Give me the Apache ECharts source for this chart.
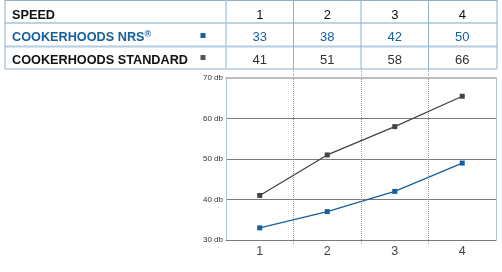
<!DOCTYPE html>
<html>
<head>
<meta charset="utf-8">
<script src="https://cdn.jsdelivr.net/npm/echarts@6/dist/echarts.min.js"></script>
<style>
html,body{margin:0;padding:0;background:#fff;}
#c{width:502px;height:272px;}
</style>
</head>
<body>
<div id="c"></div>
<script>
// ---- data ----
var speeds = ['1', '2', '3', '4'];
var rowLabels = ['SPEED', 'COOKERHOODS NRS', 'COOKERHOODS STANDARD'];
var tableNrs = [33, 38, 42, 50];
var tableStandard = [41, 51, 58, 66];
var chartNrs = [33, 37, 42, 49];
var chartStandard = [41, 51, 58, 65.5];
var yTicks = [30, 40, 50, 60, 70];
var yUnit = ' db';

var BLUE = '#17609e';
var DARK = '#444444';
var FONT = '"Liberation Sans", Arial, sans-serif';

var chart = echarts.init(document.getElementById('c'), null, {renderer: 'canvas'});

var option = {
  animation: false,
  backgroundColor: '#ffffff',
  grid: [
    {left: 226, width: 270, top: 78, height: 162},
    {left: 226, width: 270, top: 69, height: 176}
  ],
  xAxis: [
    {
      type: 'category', gridIndex: 0, data: speeds, position: 'bottom', boundaryGap: true,
      axisLine: {show: true, lineStyle: {color: '#7a7a7a', width: 1}},
      axisTick: {show: false},
      axisLabel: {fontSize: 12.5, color: '#444', fontFamily: FONT, margin: 5},
      splitLine: {show: false}
    },
    {
      type: 'category', gridIndex: 0, data: speeds, position: 'top',
      axisLine: {show: true, lineStyle: {color: '#bdbdbd', width: 2}},
      axisTick: {show: false}, axisLabel: {show: false}, splitLine: {show: false}
    },
    {
      type: 'category', gridIndex: 1, data: speeds, boundaryGap: true,
      axisLine: {show: false}, axisTick: {show: false}, axisLabel: {show: false},
      splitLine: {show: true, showMinLine: false, showMaxLine: false, interval: 0,
        lineStyle: {color: '#9a9a9a', type: 'dotted', width: 1}}
    }
  ],
  yAxis: [
    {
      type: 'value', gridIndex: 0, min: yTicks[0], max: yTicks[yTicks.length - 1], interval: 10,
      axisLine: {show: true, lineStyle: {color: '#a9c4d8', width: 1}},
      axisTick: {show: false},
      axisLabel: {formatter: function (v) { return v + yUnit; }, fontSize: 8, color: '#333', fontFamily: FONT, margin: 3},
      splitLine: {show: true, showMaxLine: false, lineStyle: {color: '#7a7a7a', width: 1}}
    },
    {
      type: 'value', gridIndex: 0, position: 'right', min: yTicks[0], max: yTicks[yTicks.length - 1], interval: 10,
      axisLine: {show: true, lineStyle: {color: '#a9c4d8', width: 1}},
      axisTick: {show: false}, axisLabel: {show: false}, splitLine: {show: false}
    },
    {
      type: 'value', gridIndex: 1, show: false
    }
  ],
  series: [
    {
      name: 'COOKERHOODS STANDARD', type: 'line', xAxisIndex: 0, yAxisIndex: 0,
      data: chartStandard, symbol: 'rect', symbolSize: 5, showAllSymbol: true,
      lineStyle: {color: DARK, width: 1.3}, itemStyle: {color: DARK}, z: 3
    },
    {
      name: 'COOKERHOODS NRS', type: 'line', xAxisIndex: 0, yAxisIndex: 0,
      data: chartNrs, symbol: 'rect', symbolSize: 5, showAllSymbol: true,
      lineStyle: {color: BLUE, width: 1.3}, itemStyle: {color: BLUE}, z: 4
    }
  ]
};
chart.setOption(option);

// ---- table built from the category axis positions ----
var centers = speeds.map(function (s, i) { return chart.convertToPixel({xAxisIndex: 0}, i); });
var bw = centers[1] - centers[0];
var bounds = centers.map(function (c) { return c - bw / 2; });
bounds.push(centers[centers.length - 1] + bw / 2);

var tableLeft = 5, tableRight = bounds[bounds.length - 1] + 1;
var rowY = [15, 37, 60];
var hLines = [
  {y: 0.5, c: '#8fb0cb', w: 1},
  {y: 23, c: '#a9c4d8', w: 1.5},
  {y: 46.5, c: '#b5cde0', w: 2},
  {y: 69, c: '#8fb0cb', w: 1}
];
var g = [];
hLines.forEach(function (h) {
  g.push({type: 'line', shape: {x1: tableLeft, y1: h.y, x2: tableRight, y2: h.y}, style: {stroke: h.c, lineWidth: h.w}, silent: true});
});
var vx = [tableLeft].concat(bounds.slice(0, bounds.length - 1)).concat([tableRight]);
vx.forEach(function (x, i) {
  g.push({type: 'line', shape: {x1: x, y1: 0, x2: x, y2: 69}, style: {stroke: i === 1 ? '#b5cde0' : '#8fb0cb', lineWidth: i === 1 ? 1.5 : 1}, silent: true});
});
// row labels
g.push({type: 'text', x: 12, y: rowY[0], style: {text: rowLabels[0], font: 'bold 12.7px ' + FONT, fill: '#111', verticalAlign: 'middle'}});
g.push({type: 'text', x: 12, y: rowY[1], style: {
  text: '{a|' + rowLabels[1] + '}{s|®}', verticalAlign: 'middle',
  rich: {a: {fontSize: 12.7, fontWeight: 'bold', fontFamily: FONT, fill: BLUE, color: BLUE},
         s: {fontSize: 9, fontWeight: 'bold', fontFamily: FONT, fill: BLUE, color: BLUE, verticalAlign: 'top', padding: [0, 0, 5, 0]}}
}});
g.push({type: 'text', x: 12, y: rowY[2], style: {text: rowLabels[2], font: 'bold 12.7px ' + FONT, fill: '#111', verticalAlign: 'middle'}});
// legend markers
g.push({type: 'rect', shape: {x: 200.5, y: 33, width: 5, height: 5}, style: {fill: BLUE}});
g.push({type: 'rect', shape: {x: 200.5, y: 55, width: 5, height: 5}, style: {fill: '#555'}});
// values
speeds.forEach(function (s, i) {
  g.push({type: 'text', x: centers[i], y: rowY[0], style: {text: s, font: '13px ' + FONT, fill: '#111', align: 'center', verticalAlign: 'middle'}});
  g.push({type: 'text', x: centers[i], y: rowY[1], style: {text: String(tableNrs[i]), font: '13px ' + FONT, fill: BLUE, align: 'center', verticalAlign: 'middle'}});
  g.push({type: 'text', x: centers[i], y: rowY[2], style: {text: String(tableStandard[i]), font: '13px ' + FONT, fill: '#333', align: 'center', verticalAlign: 'middle'}});
});
chart.setOption({graphic: {elements: g}});
</script>
</body>
</html>
